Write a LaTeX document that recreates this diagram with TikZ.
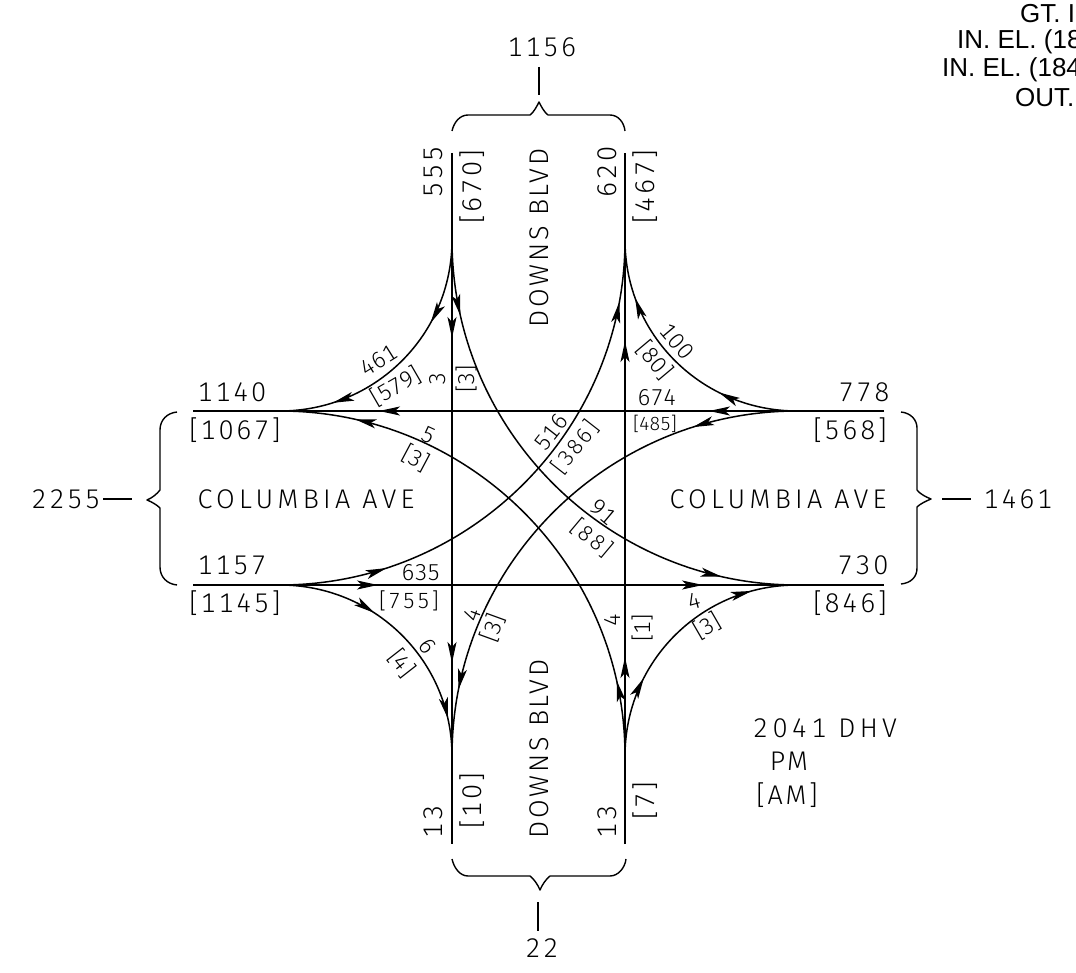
\documentclass[tikz,border=0pt]{standalone}
\usepackage{fontspec}
\usepackage{tikz}
\usetikzlibrary{arrows.meta, decorations.markings}
\newfontfamily\cadfont[LetterSpace=10,Numbers=Monospaced]{Fira Sans Light}
\newfontfamily\cadstreet[LetterSpace=16,Numbers=Monospaced]{Fira Sans Light}
\newfontfamily\cadtight[Numbers=Monospaced]{Fira Sans Light}
\newfontfamily\notefont{Liberation Sans}
\tikzset{
    flowtip/.tip={Stealth[length=21pt, width=9pt, inset=5pt]},
    road/.style={line width=1.5pt},
    flow/.style 2 args={road, decoration={markings,
        mark=at position #1 with {\arrow{flowtip}},
        mark=at position #2 with {\arrow{flowtip}}}, postaction={decorate}},
    brace/.style={line width=1.4pt, line join=round},
    biglabel/.style={font=\cadfont\fontsize{27}{27}\selectfont, inner sep=0pt, text height=19pt, text depth=0pt},
    streetlabel/.style={font=\cadstreet\fontsize{27}{27}\selectfont, inner sep=0pt, text height=19pt, text depth=0pt},
    smalllabel/.style={font=\cadtight\fontsize{23}{23}\selectfont, inner sep=0pt, text height=16pt, text depth=0pt},
    widelabel/.style={font=\cadfont\fontsize{22}{22}\selectfont, inner sep=0pt, text height=15pt, text depth=0pt},
    narrowlabel/.style={font=\cadtight\fontsize{19}{19}\selectfont, inner sep=0pt, text height=13pt, text depth=0pt},
    note/.style={font=\notefont\fontsize{26}{26}\selectfont, inner sep=0pt, anchor=west}
}
\begin{document}
\begin{tikzpicture}[x=1pt, y=-1pt]
    \useasboundingbox (0,0) rectangle (1076,973);

    % Ends of the approach lines
    \coordinate (nlTop) at (452,153);
    \coordinate (nrTop) at (625,153);
    \coordinate (slEnd) at (452,844);
    \coordinate (srEnd) at (625,844);
    \coordinate (wtEnd) at (193,411);
    \coordinate (wbEnd) at (193,585);
    \coordinate (etEnd) at (884,411);
    \coordinate (ebEnd) at (884,585);

    % Points where the turning curves leave the approach lines
    \coordinate (nl) at (452,240);
    \coordinate (nr) at (625,240);
    \coordinate (sl) at (452,756);
    \coordinate (sr) at (625,756);
    \coordinate (wt) at (280,411);
    \coordinate (wb) at (280,585);
    \coordinate (et) at (797,411);
    \coordinate (eb) at (797,585);

    % Through movements
    \draw[flow={185pt}{510pt}] (nlTop) -- (slEnd);
    \draw[flow={187pt}{503pt}] (srEnd) -- (nrTop);
    \draw[flow={175pt}{505pt}] (etEnd) -- (wtEnd);
    \draw[flow={185pt}{510pt}] (wbEnd) -- (ebEnd);

    % Short turns
    \draw[flow={0.32}{0.80}] (nl) .. controls +(0,95) and +(95,0) .. (wt);
    \draw[flow={0.30}{0.78}] (et) .. controls +(-95,0) and +(0,95) .. (nr);
    \draw[flow={0.37}{0.86}] (wb) .. controls +(95,0) and +(0,-95) .. (sl);
    \draw[flow={0.30}{0.83}] (sr) .. controls +(0,-95) and +(-95,0) .. (eb);

    % Long turns
    \draw[flow={0.14}{0.86}] (nl) .. controls +(0,190) and +(-190,0) .. (eb);
    \draw[flow={0.20}{0.885}] (wb) .. controls +(190,0) and +(0,190) .. (nr);
    \draw[flow={0.195}{0.877}] (et) .. controls +(-190,0) and +(0,-190) .. (sl);
    \draw[flow={0.14}{0.86}] (sr) .. controls +(0,-190) and +(190,0) .. (wt);

    % Braces
    \draw[brace] (452,131) .. controls (454,122) and (460,115) .. (468,115) -- (530,115)
        .. controls (534,112) and (537,106) .. (539,102) .. controls (541,106) and (544,112) .. (548,115)
        -- (610,115) .. controls (618,115) and (624,122) .. (625,131);
    \draw[brace] (452,859) .. controls (454,868) and (460,876) .. (468,876) -- (530,876)
        .. controls (534,879) and (538,885) .. (540,890) .. controls (542,885) and (546,879) .. (550,876)
        -- (610,876) .. controls (618,876) and (625,868) .. (626,859);
    \draw[brace] (177,412) .. controls (167,413) and (160,420) .. (160,430) -- (160,490)
        .. controls (157,494) and (152,498) .. (147,500) .. controls (152,502) and (157,505) .. (160,508)
        -- (160,567) .. controls (160,577) and (167,584) .. (177,585);
    \draw[brace] (901,412) .. controls (911,413) and (917,420) .. (917,428) -- (917,490)
        .. controls (920,494) and (926,497) .. (931,499) .. controls (926,501) and (920,504) .. (917,507)
        -- (917,568) .. controls (917,577) and (911,583) .. (901,584);

    % Leaders from the brace totals
    \coordinate (leadN) at (539,67);
    \coordinate (leadNb) at (539,95);
    \coordinate (leadS) at (538,902);
    \coordinate (leadSb) at (538,931);
    \coordinate (leadW) at (103,499);
    \coordinate (leadWb) at (132,499);
    \coordinate (leadE) at (942,499);
    \coordinate (leadEb) at (971,499);
    \draw[brace] (leadN) -- (leadNb);
    \draw[brace] (leadS) -- (leadSb);
    \draw[brace] (leadW) -- (leadWb);
    \draw[brace] (leadE) -- (leadEb);

    % Totals
    \node[biglabel] (totalN) at (542,47) {1156};
    \node[biglabel] (totalS) at (542,948) {22};
    \node[biglabel] (totalW) at (66,499) {2255};
    \node[biglabel] (totalE) at (1018,499) {1461};

    % Street names
    \node[streetlabel] (streetW) at (306,499) {COLUMBIA AVE};
    \node[streetlabel] (streetE) at (778,499) {COLUMBIA AVE};
    \node[biglabel, rotate=90] (streetN) at (539,238) {DOWNS BLVD};
    \node[biglabel, rotate=90] (streetS) at (539,749) {DOWNS BLVD};

    % Approach volumes
    \node[biglabel] (volWtPm) at (232,392) {1140};
    \node[biglabel] (volWtAm) at (235,430) {[1067]};
    \node[biglabel] (volWbPm) at (232,565) {1157};
    \node[biglabel] (volWbAm) at (235,603) {[1145]};
    \node[biglabel] (volEtPm) at (864,392) {778};
    \node[biglabel] (volEtAm) at (850,430) {[568]};
    \node[biglabel] (volEbPm) at (863,565) {730};
    \node[biglabel] (volEbAm) at (850,603) {[846]};
    \node[biglabel, rotate=90] (volNlPm) at (433,172) {555};
    \node[biglabel, rotate=90] (volNlAm) at (472,187) {[670]};
    \node[biglabel, rotate=90] (volNrPm) at (607,172) {620};
    \node[biglabel, rotate=90] (volNrAm) at (645,187) {[467]};
    \node[biglabel, rotate=90] (volSlPm) at (433,822) {13};
    \node[biglabel, rotate=90] (volSlAm) at (472,801) {[10]};
    \node[biglabel, rotate=90] (volSrPm) at (607,822) {13};
    \node[biglabel, rotate=90] (volSrAm) at (645,801) {[7]};

    % Turning volumes
    \node[smalllabel, rotate=32] (turnA) at (379,360) {461};
    \node[smalllabel, rotate=30] (turnB) at (396,386) {[579]};
    \node[smalllabel, rotate=90] (turnC) at (437,379) {3};
    \node[smalllabel, rotate=90] (turnD) at (466,379) {[3]};
    \node[smalllabel, rotate=-50] (turnE) at (677,341) {100};
    \node[smalllabel, rotate=-50] (turnF) at (655,360) {[80]};
    \node[smalllabel] (turnG) at (657,398) {674};
    \node[narrowlabel] (turnH) at (655,424) {[485]};
    \node[smalllabel, rotate=52] (turnI) at (551,432) {516};
    \node[widelabel, rotate=52] (turnJ) at (575,447) {[386]};
    \node[smalllabel, rotate=-25] (turnK) at (429,435) {5};
    \node[smalllabel, rotate=-28] (turnL) at (416,458) {[3]};
    \node[smalllabel, rotate=-40] (turnM) at (604,512) {91};
    \node[widelabel, rotate=-40] (turnN) at (592,538) {[88]};
    \node[smalllabel] (turnO) at (421,572) {635};
    \node[widelabel] (turnP) at (409,601) {[755]};
    \node[smalllabel, rotate=70] (turnQ) at (472,615) {4};
    \node[smalllabel, rotate=70] (turnR) at (493,628) {[3]};
    \node[smalllabel, rotate=-55] (turnS) at (428,646) {6};
    \node[smalllabel, rotate=-52] (turnT) at (402,663) {[4]};
    \node[smalllabel, rotate=90] (turnU) at (612,620) {4};
    \node[smalllabel, rotate=90] (turnV) at (642,628) {[1]};
    \node[smalllabel, rotate=15] (turnW) at (694,601) {4};
    \node[smalllabel, rotate=30] (turnX) at (707,626) {[3]};

    % Legend
    \node[streetlabel] (keyDhv) at (825,728) {2041 DHV};
    \node[biglabel] (keyPm) at (789,761) {PM};
    \node[biglabel] (keyAm) at (787,795) {[AM]};

    % Notes cut by the right edge
    \node[note] (noteA) at (1020,14) {GT. I};
    \node[note] (noteB) at (957,42) {IN. EL. (18};
    \node[note] (noteC) at (942,70) {IN. EL. (184};
    \node[note] (noteD) at (1015,98) {OUT.};
\end{tikzpicture}
\end{document}
